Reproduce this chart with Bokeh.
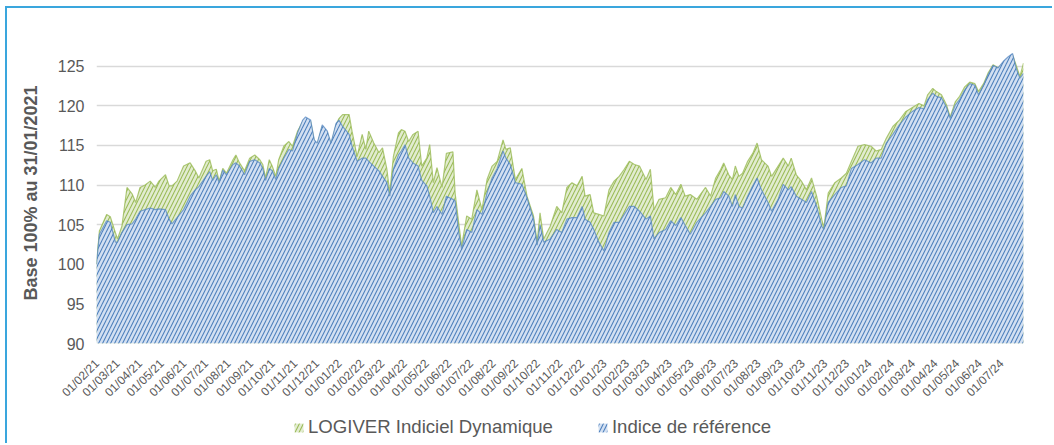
import math
import pandas as pd
from bokeh.plotting import figure
from bokeh.layouts import column
from bokeh.models import (ColumnDataSource, FixedTicker, DatetimeTickFormatter,
                          Legend, LegendItem, Range1d)
from bokeh.embed import file_html
from bokeh.resources import INLINE

series_names = ["LOGIVER Indiciel Dynamique", "Indice de référence"]
y_label = "Base 100% au 31/01/2021"
y_ticks = [90, 95, 100, 105, 110, 115, 120, 125]
month_ticks = list(pd.date_range("2021-02-01", "2024-07-01", freq="MS"))

dates = [
    "2021-01-31", "2021-02-04", "2021-02-14", "2021-02-19", "2021-02-26", "2021-03-01", "2021-03-07",
    "2021-03-14", "2021-03-21", "2021-03-26", "2021-04-01", "2021-04-08", "2021-04-15", "2021-04-22",
    "2021-04-27", "2021-05-06", "2021-05-11", "2021-05-15", "2021-05-22", "2021-05-31", "2021-06-09",
    "2021-06-16", "2021-06-21", "2021-07-01", "2021-07-06", "2021-07-10", "2021-07-15", "2021-07-19",
    "2021-07-24", "2021-07-29", "2021-08-07", "2021-08-11", "2021-08-16", "2021-08-23", "2021-08-30",
    "2021-09-06", "2021-09-13", "2021-09-17", "2021-09-21", "2021-09-26", "2021-09-30", "2021-10-05",
    "2021-10-09", "2021-10-16", "2021-10-23", "2021-10-28", "2021-11-04", "2021-11-11", "2021-11-15",
    "2021-11-22", "2021-11-27", "2021-12-01", "2021-12-08", "2021-12-15", "2021-12-20", "2021-12-27",
    "2021-12-31", "2022-01-05", "2022-01-14", "2022-01-18", "2022-01-25", "2022-02-01", "2022-02-06",
    "2022-02-10", "2022-02-17", "2022-02-24", "2022-03-01", "2022-03-07", "2022-03-11", "2022-03-16",
    "2022-03-23", "2022-03-27", "2022-04-01", "2022-04-06", "2022-04-12", "2022-04-19", "2022-04-24",
    "2022-05-01", "2022-05-05", "2022-05-10", "2022-05-15", "2022-05-22", "2022-05-28", "2022-06-06",
    "2022-06-09", "2022-06-14", "2022-06-18", "2022-06-25", "2022-07-02", "2022-07-09", "2022-07-16",
    "2022-07-23", "2022-07-30", "2022-08-06", "2022-08-14", "2022-08-18", "2022-08-24", "2022-08-31",
    "2022-09-09", "2022-09-16", "2022-09-25", "2022-09-30", "2022-10-04", "2022-10-09", "2022-10-18",
    "2022-10-27", "2022-11-03", "2022-11-10", "2022-11-17", "2022-11-24", "2022-12-01", "2022-12-05",
    "2022-12-12", "2022-12-17", "2022-12-24", "2022-12-31", "2023-01-07", "2023-01-14", "2023-01-21",
    "2023-01-28", "2023-02-04", "2023-02-11", "2023-02-18", "2023-02-27", "2023-03-05", "2023-03-10",
    "2023-03-17", "2023-03-26", "2023-04-02", "2023-04-09", "2023-04-16", "2023-04-22", "2023-04-29",
    "2023-05-08", "2023-05-20", "2023-05-27", "2023-06-03", "2023-06-10", "2023-06-14", "2023-06-21",
    "2023-06-26", "2023-06-30", "2023-07-05", "2023-07-10", "2023-07-17", "2023-07-24", "2023-07-30",
    "2023-08-05", "2023-08-14", "2023-08-19", "2023-08-28", "2023-09-04", "2023-09-11", "2023-09-15",
    "2023-09-22", "2023-09-29", "2023-10-06", "2023-10-13", "2023-10-20", "2023-10-27", "2023-10-30",
    "2023-11-05", "2023-11-14", "2023-11-23", "2023-11-30", "2023-12-07", "2023-12-16", "2023-12-25",
    "2024-01-03", "2024-01-10", "2024-01-17", "2024-01-24", "2024-02-02", "2024-02-11", "2024-02-20",
    "2024-02-29", "2024-03-09", "2024-03-16", "2024-03-21", "2024-03-28", "2024-04-02", "2024-04-09",
    "2024-04-16", "2024-04-21", "2024-04-28", "2024-05-04", "2024-05-11", "2024-05-18", "2024-05-25",
    "2024-05-30", "2024-06-06", "2024-06-12", "2024-06-19", "2024-06-26", "2024-07-03", "2024-07-10",
    "2024-07-16", "2024-07-21", "2024-07-26", "2024-07-31",
]

logiver = [
    100.0, 104.2, 106.3, 106.0, 104.0, 103.2, 104.8,
    109.7, 108.9, 107.8, 109.7, 110.0, 110.5, 109.7,
    110.5, 111.3, 109.9, 109.9, 110.5, 112.4, 112.8,
    111.8, 110.9, 113.0, 113.2, 111.8, 112.0, 110.5,
    112.1, 111.5, 113.2, 113.8, 112.8, 111.8, 113.4,
    113.8, 113.2, 112.6, 110.9, 113.2, 112.4, 111.1,
    113.2, 114.9, 115.5, 114.9, 116.8, 118.0, 118.4,
    118.0, 115.5, 115.1, 117.4, 116.6, 115.1, 117.6,
    118.4, 118.9, 118.9, 116.8, 113.6, 116.4, 114.5,
    116.8, 115.3, 114.1, 114.7, 112.0, 109.0, 113.6,
    116.6, 117.0, 116.8, 115.5, 116.4, 116.8, 112.4,
    113.4, 115.1, 110.3, 112.2, 109.7, 114.0, 114.2,
    109.0, 105.2, 102.3, 106.1, 105.7, 109.4, 106.9,
    110.7, 112.4, 113.0, 115.7, 114.5, 114.7, 110.7,
    112.1, 108.6, 106.1, 102.8, 106.5, 103.2, 104.8,
    107.3, 106.5, 109.7, 110.3, 109.9, 111.1, 108.6,
    108.8, 106.5, 106.3, 106.1, 109.4, 110.5, 111.1,
    112.0, 113.0, 112.6, 112.4, 110.7, 112.0, 106.9,
    108.2, 108.4, 109.7, 108.8, 110.1, 108.6, 108.8,
    108.2, 109.7, 108.6, 110.9, 112.0, 112.8, 111.3,
    110.7, 112.4, 111.1, 111.5, 113.0, 114.0, 115.3,
    113.2, 112.4, 111.1, 112.4, 113.4, 112.4, 113.4,
    111.3, 110.5, 109.4, 110.9, 108.6, 105.7, 104.6,
    109.0, 110.3, 110.9, 111.5, 113.0, 114.9, 115.1,
    114.9, 114.3, 114.5, 115.9, 117.4, 118.2, 119.3,
    119.8, 120.3, 120.0, 121.4, 122.2, 121.8, 121.4,
    120.1, 118.6, 120.5, 121.2, 122.4, 123.0, 122.8,
    121.8, 122.8, 124.1, 125.2, 124.8, 125.4, 126.0,
    126.4, 125.1, 123.7, 125.4,
]

indice = [
    100.0, 103.8, 105.5, 105.3, 102.8, 102.8, 104.0,
    105.0, 105.1, 105.7, 106.7, 106.9, 107.1, 106.9,
    107.0, 106.9, 105.7, 105.1, 105.9, 106.9, 108.6,
    109.4, 109.8, 111.1, 111.7, 110.6, 111.3, 110.3,
    111.9, 111.3, 112.6, 112.8, 112.4, 111.3, 113.0,
    113.2, 112.8, 112.1, 110.6, 112.1, 111.8, 110.7,
    112.1, 113.4, 114.5, 114.3, 116.6, 118.2, 118.6,
    118.2, 115.7, 115.3, 117.6, 116.8, 115.3, 117.8,
    118.2, 117.4, 116.4, 114.9, 113.0, 113.4, 113.4,
    113.0, 112.4, 111.8, 111.1, 110.3, 108.6, 112.0,
    113.8, 114.3, 115.1, 113.4, 112.8, 112.4, 110.6,
    109.9, 108.6, 106.5, 107.3, 106.3, 108.6, 108.2,
    108.0, 104.0, 101.9, 104.4, 104.0, 106.9, 106.3,
    109.0, 110.9, 112.1, 114.3, 113.4, 112.6, 110.3,
    110.1, 108.4, 105.7, 102.4, 105.0, 102.8, 103.2,
    104.4, 104.0, 105.7, 105.9, 105.9, 107.3, 105.7,
    105.3, 104.4, 102.8, 101.7, 104.0, 105.3, 105.3,
    106.3, 107.3, 107.3, 106.7, 105.7, 106.1, 103.2,
    104.0, 104.4, 105.5, 104.9, 105.9, 104.9, 103.8,
    105.3, 106.5, 107.3, 108.2, 108.4, 109.2, 108.6,
    107.3, 108.8, 107.3, 107.1, 108.6, 109.9, 110.9,
    109.4, 107.8, 106.7, 108.2, 110.1, 109.4, 109.8,
    108.6, 108.2, 107.8, 109.2, 107.3, 104.8, 104.4,
    107.8, 108.8, 109.7, 109.9, 112.1, 112.6, 113.2,
    112.8, 113.4, 113.4, 115.3, 116.4, 117.6, 118.6,
    119.3, 119.8, 119.6, 120.8, 121.6, 121.2, 121.0,
    119.8, 118.4, 120.1, 120.8, 122.0, 122.8, 122.6,
    121.4, 122.6, 123.9, 125.1, 124.8, 125.6, 126.2,
    126.6, 124.7, 123.5, 124.1,
]

FONT = "Liberation Sans"
GRAY = "#595959"
BORDER = "2px solid #3aa6dd"
G_STYLE = dict(fill_color="#e2ecd0", hatch_pattern="/", hatch_color="#9bbb59",
               hatch_scale=8, hatch_weight=1.1)
B_STYLE = dict(fill_color="#d3e0f2", hatch_pattern="/", hatch_color="#4f81bd",
               hatch_scale=8, hatch_weight=1.1)

src = ColumnDataSource(dict(date=pd.to_datetime(dates), g=logiver, b=indice))

p = figure(width=1045, height=399, output_backend="svg", toolbar_location=None,
           x_axis_type="datetime",
           x_range=Range1d(pd.Timestamp("2021-01-31"), pd.Timestamp("2024-07-31")),
           y_range=Range1d(90, 128),
           min_border_left=89, min_border_right=29, min_border_top=34, min_border_bottom=62)
p.outline_line_color = None
p.background_fill_color = "white"
p.border_fill_color = "white"

g_area = p.varea(x="date", y1=90, y2="g", source=src, **G_STYLE)
p.line(x="date", y="g", source=src, line_color="#9bbb59", line_width=1.2, line_alpha=0.8)
b_area = p.varea(x="date", y1=90, y2="b", source=src, **B_STYLE)
p.line(x="date", y="b", source=src, line_color="#4f81bd", line_width=1.2, line_alpha=0.7)

# grid
p.xgrid.grid_line_color = None
p.ygrid.grid_line_color = "#d9d9d9"
p.ygrid.grid_line_width = 1.5
p.ygrid.level = "underlay"

# y axis
p.yaxis.ticker = FixedTicker(ticks=y_ticks)
p.yaxis.axis_label = y_label
p.yaxis.axis_label_text_font = FONT
p.yaxis.axis_label_text_font_size = "18px"
p.yaxis.axis_label_text_font_style = "bold"
p.yaxis.axis_label_text_color = GRAY
p.yaxis.axis_label_standoff = 14
p.yaxis.major_label_text_font = FONT
p.yaxis.major_label_text_font_size = "16px"
p.yaxis.major_label_text_color = GRAY
p.yaxis.major_label_standoff = 6
p.yaxis.axis_line_color = None
p.yaxis.major_tick_line_color = None
p.yaxis.minor_tick_line_color = None

# x axis
p.xaxis.ticker = FixedTicker(ticks=[t.value // 10**6 for t in month_ticks])
fmt = "%d/%m/%y"
p.xaxis.formatter = DatetimeTickFormatter(days=fmt, months=fmt, years=fmt, hours=fmt,
                                          minutes=fmt, seconds=fmt)
p.xaxis.major_label_orientation = math.pi / 4
p.xaxis.major_label_text_font = FONT
p.xaxis.major_label_text_font_size = "12px"
p.xaxis.major_label_text_color = GRAY
p.xaxis.major_label_standoff = 12
p.xaxis.axis_line_color = None
p.xaxis.major_tick_line_color = None
p.xaxis.minor_tick_line_color = None

# legend strip (same series, drawn outside its visible range so only the legend shows)
leg = figure(width=1045, height=36, output_backend="svg", toolbar_location=None,
             x_range=Range1d(0, 1), y_range=Range1d(0, 1),
             x_axis_location=None, y_axis_location=None,
             min_border_left=0, min_border_right=0, min_border_top=0, min_border_bottom=0)
leg.outline_line_color = None
leg.grid.grid_line_color = None
leg.border_fill_color = "white"
lg = leg.varea(x="date", y1=90, y2="g", source=src, **G_STYLE)
lb = leg.varea(x="date", y1=90, y2="b", source=src, **B_STYLE)

legend = Legend(items=[LegendItem(label=series_names[0], renderers=[lg]),
                       LegendItem(label=series_names[1], renderers=[lb])],
                orientation="horizontal", location=(197, 5),
                border_line_color=None, background_fill_alpha=0,
                label_text_font=FONT, label_text_font_size="18.6px", label_text_color=GRAY,
                glyph_width=11, glyph_height=11, spacing=44, label_standoff=4,
                padding=0, margin=0)
leg.add_layout(legend, "center")

layout = column(p, leg, spacing=0,
                styles={"margin-left": "5px", "margin-top": "6px",
                        "border-left": BORDER, "border-top": BORDER})

open("out.html", "w").write(file_html(layout, INLINE))
